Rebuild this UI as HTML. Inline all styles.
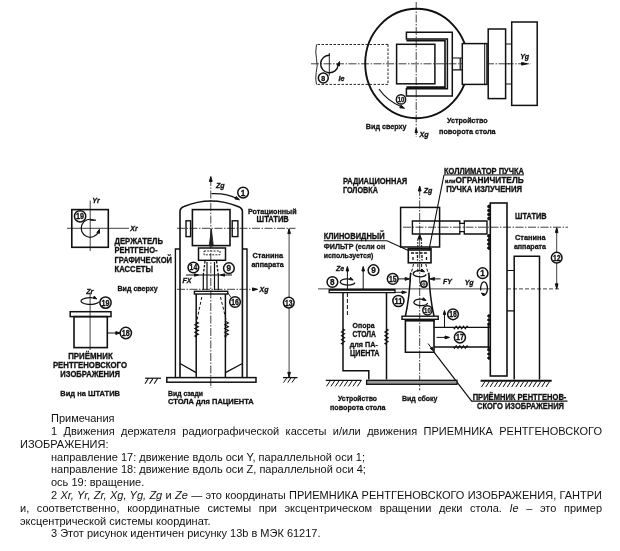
<!DOCTYPE html>
<html lang="ru"><head><meta charset="utf-8"><title>Рисунок</title>
<style>
html,body{margin:0;padding:0;background:#fff;}
body{width:620px;height:551px;position:relative;overflow:hidden;font-family:"Liberation Sans",sans-serif;color:#111;}
svg{position:absolute;left:0;top:0;filter:blur(0.35px);}
svg *{stroke:#111;}
svg text{stroke:#111;stroke-width:0.3px;fill:#111;font-family:"Liberation Sans",sans-serif;}
svg .b{font-weight:bold;}
svg .bi{font-weight:bold;font-style:italic;}
#notes{filter:blur(0.3px);position:absolute;left:20px;top:412.2px;width:582px;font-size:11px;line-height:12.8px;color:#111;}
#notes p{margin:0;text-indent:31px;text-align:justify;}
</style></head><body>
<svg width="620" height="551" viewBox="0 0 620 551" fill="none">
<ellipse cx="416.6" cy="63.5" rx="51.4" ry="54.7" stroke-width="1.9" fill="none"/>
<line x1="311" y1="63.8" x2="531" y2="63.8" stroke-width="0.8" stroke-dasharray="8 1.5 1.5 1.5"/>
<line x1="416.2" y1="2" x2="416.2" y2="137" stroke-width="0.8" stroke-dasharray="8 1.5 1.5 1.5"/>
<path d="M388,44.5 H316.5 M388,84.4 H316.5 M388,44.5 V84.4" stroke-width="0.9" fill="none" stroke-dasharray="2.5 1.5"/>
<path d="M316.5,44.5 q-1.5,8 0,14 q1.5,8 -0.3,14 q-1,7 0.3,12" stroke-width="0.9" fill="none"/>
<path d="M330,55.2 A8.8,8.8 0 1 0 338.2,65" stroke-width="1.4" fill="none"/>
<polygon points="339.6,61.5 339.5,65.9 336.8,65.0" fill="#111" stroke="none"/>
<line x1="329.3" y1="53" x2="329.3" y2="75.6" stroke-width="0.9"/>
<circle cx="323.3" cy="78" r="4.949999999999999" stroke-width="1.5" fill="#fff"/>
<text x="323.3" y="80.52" font-size="7" text-anchor="middle" class="b">8</text>
<text x="338.5" y="81.4" font-size="7.2" class="bi" text-anchor="start">Ie</text>
<rect x="396.6" y="44.3" width="38.3" height="39.5" stroke-width="1.5" fill="none"/>
<path d="M406.4,32.3 H452.3 V96 H406.4 V88.8 H447.4 V38.9 H406.4 Z" stroke-width="1.5" fill="none"/>
<path d="M406.4,40.6 H445 V87.1 H406.4" stroke-width="1.6" fill="none"/>
<path d="M452.3,58 H462.3 M452.3,69.8 H462.3 M460.2,58 V69.8" stroke-width="1.2" fill="none"/>
<rect x="462.3" y="43.6" width="24.7" height="40.8" stroke-width="1.5" fill="#fff"/>
<line x1="484.7" y1="43.6" x2="484.7" y2="84.4" stroke-width="1.0"/>
<rect x="488.2" y="29" width="17.4" height="69.6" stroke-width="1.5" fill="none"/>
<path d="M505.6,44 H511.7 M505.6,84 H511.7" stroke-width="1.2" fill="none"/>
<rect x="511.7" y="22" width="25.5" height="83.4" stroke-width="1.5" fill="#fff"/>
<line x1="505.6" y1="63.8" x2="531" y2="63.8" stroke-width="0.8" stroke-dasharray="8 1.5 1.5 1.5"/>
<polygon points="527.6,63.8 521.6,65.1 521.6,62.5" fill="#111" stroke="none"/>
<text x="520.2" y="58.6" font-size="7" class="bi" text-anchor="start">Yg</text>
<path d="M379,89 Q387,101 403,107.5" stroke-width="1.2" fill="none"/>
<polygon points="404.5,108.2 399.8,107.8 400.9,105.2" fill="#111" stroke="none"/>
<circle cx="401" cy="99.4" r="4.6499999999999995" stroke-width="1.5" fill="#fff"/>
<text x="401" y="101.92" font-size="7" text-anchor="middle" class="b" textLength="6.6" lengthAdjust="spacingAndGlyphs">10</text>
<text x="365.8" y="129.3" font-size="8.0" class="b" textLength="40.8" lengthAdjust="spacingAndGlyphs">Вид сверху</text>
<text x="447" y="122.8" font-size="8.0" class="b" textLength="40.6" lengthAdjust="spacingAndGlyphs">Устройство</text>
<text x="439" y="133.6" font-size="8.0" class="b" textLength="56.6" lengthAdjust="spacingAndGlyphs">поворота стола</text>
<polygon points="416.2,128.5 417.4,132.5 415.0,132.5" fill="#111" stroke="none"/>
<text x="419.5" y="136.6" font-size="7.2" class="bi" text-anchor="start">Xg</text>
<rect x="71.8" y="209.6" width="36.5" height="37.7" stroke-width="1.6" fill="none"/>
<line x1="90.2" y1="200.5" x2="90.2" y2="251" stroke-width="0.8"/>
<line x1="67" y1="228.3" x2="129" y2="228.3" stroke-width="0.8"/>
<text x="92.3" y="203" font-size="7" class="bi" text-anchor="start">Yr</text>
<text x="130.3" y="231.4" font-size="7" class="bi" text-anchor="start">Xr</text>
<path d="M94.2,220.2 A9,9 0 1 0 98.6,231.5" stroke-width="1.2" fill="none"/>
<line x1="90.2" y1="220.2" x2="96" y2="220.2" stroke-width="1.2"/>
<polygon points="99.5,229.2 99.4,233.4 96.9,232.5" fill="#111" stroke="none"/>
<circle cx="80.1" cy="216.3" r="5.6499999999999995" stroke-width="1.5" fill="#fff"/>
<text x="80.1" y="219.25" font-size="8.2" text-anchor="middle" class="b" textLength="8.0" lengthAdjust="spacingAndGlyphs">19</text>
<text x="114.5" y="243.5" font-size="8.2" class="b" textLength="48.5" lengthAdjust="spacingAndGlyphs">ДЕРЖАТЕЛЬ</text>
<text x="114.5" y="253.1" font-size="8.2" class="b" textLength="43.0" lengthAdjust="spacingAndGlyphs">РЕНТГЕНО-</text>
<text x="114.5" y="262.7" font-size="8.2" class="b" textLength="57.5" lengthAdjust="spacingAndGlyphs">ГРАФИЧЕСКОЙ</text>
<text x="114.5" y="272.3" font-size="8.2" class="b" textLength="38.5" lengthAdjust="spacingAndGlyphs">КАССЕТЫ</text>
<text x="117.4" y="290.6" font-size="8.0" class="b" textLength="40.4" lengthAdjust="spacingAndGlyphs">Вид сверху</text>
<text x="86.3" y="294" font-size="7" class="bi" text-anchor="start">Zr</text>
<line x1="90.1" y1="292.5" x2="90.1" y2="350" stroke-width="0.8"/>
<path d="M92.8,297.8 A9,3.4 0 1 0 98.9,301.7" stroke-width="1.3" fill="none"/>
<polygon points="96.8,298.9 93.1,298.3 94.3,296.1" fill="#111" stroke="none"/>
<circle cx="105.5" cy="302.6" r="5.6499999999999995" stroke-width="1.5" fill="#fff"/>
<text x="105.5" y="305.55" font-size="8.2" text-anchor="middle" class="b" textLength="8.0" lengthAdjust="spacingAndGlyphs">19</text>
<rect x="70.2" y="311.7" width="40.8" height="4.9" stroke-width="1.5" fill="none"/>
<rect x="74" y="316.6" width="33.3" height="31.0" stroke-width="1.6" fill="none"/>
<line x1="107.3" y1="333" x2="117" y2="333" stroke-width="1.0"/>
<polygon points="120.3,333.0 115.8,334.4 115.8,331.6" fill="#111" stroke="none"/>
<circle cx="125.8" cy="333" r="5.6499999999999995" stroke-width="1.5" fill="#fff"/>
<text x="125.8" y="335.95" font-size="8.2" text-anchor="middle" class="b" textLength="8.0" lengthAdjust="spacingAndGlyphs">18</text>
<text x="68.2" y="358.8" font-size="8.2" class="b" textLength="44.5" lengthAdjust="spacingAndGlyphs">ПРИЁМНИК</text>
<text x="52.9" y="368.1" font-size="8.2" class="b" textLength="74.1" lengthAdjust="spacingAndGlyphs">РЕНТГЕНОВСКОГО</text>
<text x="60.3" y="377.2" font-size="8.2" class="b" textLength="59.7" lengthAdjust="spacingAndGlyphs">ИЗОБРАЖЕНИЯ</text>
<text x="60.3" y="396" font-size="8.0" class="b" textLength="59.7" lengthAdjust="spacingAndGlyphs">Вид на ШТАТИВ</text>
<line x1="210.8" y1="178" x2="210.8" y2="388" stroke-width="0.8" stroke-dasharray="8 1.5 1.5 1.5"/>
<polygon points="210.8,176.5 212.2,181.5 209.4,181.5" fill="#111" stroke="none"/>
<text x="216" y="188" font-size="7" class="bi" text-anchor="start">Zg</text>
<path d="M211.5,193.7 Q226,193 238,199" stroke-width="1.2" fill="none"/>
<polygon points="239.5,199.8 234.9,198.9 236.2,196.5" fill="#111" stroke="none"/>
<circle cx="243.1" cy="192.6" r="5.35" stroke-width="1.5" fill="#fff"/>
<text x="243.1" y="195.55" font-size="8.2" text-anchor="middle" class="b">1</text>
<path d="M180,377.5 V211.5 Q180,208 184,206.5 Q210.8,195.5 238,206.5 Q242.4,208 242.4,211.5 V377.5" stroke-width="1.6" fill="none"/>
<path d="M175.4,377.5 V249 H180 M247,377.5 V249 H242.4" stroke-width="1.4" fill="none"/>
<rect x="192.4" y="209.6" width="37.6" height="36.0" stroke-width="1.6" fill="none"/>
<rect x="186" y="220.8" width="4.6" height="15.8" stroke-width="1.4" fill="none"/>
<rect x="232.2" y="220.8" width="5.7" height="15.8" stroke-width="1.4" fill="none"/>
<line x1="177" y1="228.3" x2="295.5" y2="228.3" stroke-width="0.8" stroke-dasharray="8 1.5 1.5 1.5"/>
<line x1="289.1" y1="229" x2="289.1" y2="377" stroke-width="0.8"/>
<polygon points="289.1,228.6 290.4,233.6 287.8,233.6" fill="#111" stroke="none"/>
<polygon points="289.1,377.3 287.8,372.3 290.4,372.3" fill="#111" stroke="none"/>
<circle cx="288.8" cy="302.6" r="5.35" stroke-width="1.5" fill="#fff"/>
<text x="288.8" y="305.55" font-size="8.2" text-anchor="middle" class="b" textLength="7.6" lengthAdjust="spacingAndGlyphs">13</text>
<line x1="283" y1="377.6" x2="297.5" y2="377.6" stroke-width="1.3"/>
<line x1="287.0" y1="377.6" x2="283.5" y2="382.6" stroke-width="1.0"/>
<line x1="291.2" y1="377.6" x2="287.7" y2="382.6" stroke-width="1.0"/>
<line x1="295.4" y1="377.6" x2="291.9" y2="382.6" stroke-width="1.0"/>
<text x="248" y="213.8" font-size="8.0" class="b" textLength="48.6" lengthAdjust="spacingAndGlyphs">Ротационный</text>
<text x="256.6" y="222.3" font-size="8.2" class="b" textLength="32.1" lengthAdjust="spacingAndGlyphs">ШТАТИВ</text>
<text x="252.5" y="257.8" font-size="8.0" class="b" textLength="30.5" lengthAdjust="spacingAndGlyphs">Станина</text>
<text x="251.4" y="267" font-size="8.0" class="b" textLength="32.3" lengthAdjust="spacingAndGlyphs">аппарата</text>
<path d="M211.3,229 L209.3,246 H213.3 Z" stroke-width="0.8" fill="#222"/>
<rect x="198.5" y="248" width="27.0" height="12.3" stroke-width="1.5" fill="none"/>
<rect x="204" y="251" width="16" height="3.8" stroke-width="0.9" fill="none" stroke-dasharray="2 1.2"/>
<circle cx="193.4" cy="267.5" r="5.35" stroke-width="1.5" fill="#fff"/>
<text x="193.4" y="270.45" font-size="8.2" text-anchor="middle" class="b" textLength="7.6" lengthAdjust="spacingAndGlyphs">14</text>
<circle cx="228.9" cy="268.2" r="5.35" stroke-width="1.5" fill="#fff"/>
<text x="228.9" y="271.15" font-size="8.2" text-anchor="middle" class="b">9</text>
<line x1="186" y1="275" x2="232" y2="275" stroke-width="1.0"/>
<polygon points="198.5,275.0 194.5,276.2 194.5,273.8" fill="#111" stroke="none"/>
<polygon points="220.5,275.0 224.5,273.8 224.5,276.2" fill="#111" stroke="none"/>
<path d="M205,261 L203.3,275 M216.5,261 L218.3,275" stroke-width="1.3" fill="none" stroke-dasharray="2.5 1.5"/>
<path d="M203.3,275 V290 M207,262 V290 M214.5,262 V290 M218.3,275 V290" stroke-width="1.2" fill="none"/>
<text x="182.6" y="283.2" font-size="7" class="bi" text-anchor="start">FX</text>
<line x1="177" y1="289.3" x2="255" y2="289.3" stroke-width="0.8" stroke-dasharray="8 1.5 1.5 1.5"/>
<polygon points="257.5,289.3 252.5,290.7 252.5,287.9" fill="#111" stroke="none"/>
<text x="259.5" y="292" font-size="7" class="bi" text-anchor="start">Xg</text>
<rect x="194.4" y="291.3" width="33.3" height="2.7" stroke-width="1.4" fill="none"/>
<path d="M196.2,294 V377.5 M225.4,294 V377.5" stroke-width="1.5" fill="none"/>
<circle cx="235" cy="302" r="5.35" stroke-width="1.5" fill="#fff"/>
<text x="235" y="304.95" font-size="8.2" text-anchor="middle" class="b" textLength="7.6" lengthAdjust="spacingAndGlyphs">16</text>
<path d="M227.7,292.6 L231,297.5" stroke-width="0.9" fill="none"/>
<path d="M201.8,297 L196.6,322 M220.5,297 L226.6,322" stroke-width="1.0" fill="none" stroke-dasharray="3 2"/>
<polyline points="196.6,322.0 198.4,322.9 194.8,324.8 198.4,326.7 194.8,328.6 198.4,330.4 194.8,332.3 198.4,334.2 194.8,336.1 196.6,337.0" stroke-width="1.1" fill="none"/>
<polyline points="226.6,322.0 228.4,322.9 224.8,324.8 228.4,326.7 224.8,328.6 228.4,330.4 224.8,332.3 228.4,334.2 224.8,336.1 226.6,337.0" stroke-width="1.1" fill="none"/>
<path d="M180,363.5 L196.2,372.6 M242.4,363.5 L225.4,372.6" stroke-width="1.3" fill="none"/>
<rect x="166.8" y="377.6" width="89.2" height="4.6" stroke-width="1.5" fill="none"/>
<line x1="148.5" y1="378.2" x2="145.0" y2="383.7" stroke-width="1.1"/>
<line x1="153.1" y1="378.2" x2="149.6" y2="383.7" stroke-width="1.1"/>
<line x1="157.7" y1="378.2" x2="154.2" y2="383.7" stroke-width="1.1"/>
<line x1="145" y1="378.2" x2="161" y2="378.2" stroke-width="1.2"/>
<text x="168" y="395.8" font-size="8.0" class="b" textLength="35" lengthAdjust="spacingAndGlyphs">Вид сзади</text>
<text x="168" y="403.8" font-size="8.0" class="b" textLength="85.7" lengthAdjust="spacingAndGlyphs">СТОЛА для ПАЦИЕНТА</text>
<text x="342.9" y="183.8" font-size="8.2" class="b" textLength="64.3" lengthAdjust="spacingAndGlyphs">РАДИАЦИОННАЯ</text>
<text x="342.9" y="193.3" font-size="8.2" class="b" textLength="35.0" lengthAdjust="spacingAndGlyphs">ГОЛОВКА</text>
<line x1="419.7" y1="188" x2="419.7" y2="390.5" stroke-width="0.8" stroke-dasharray="8 1.5 1.5 1.5"/>
<polygon points="419.7,186.0 421.1,191.0 418.3,191.0" fill="#111" stroke="none"/>
<text x="423.7" y="193.2" font-size="7" class="bi" text-anchor="start">Zg</text>
<rect x="400.6" y="207.4" width="39.0" height="39.6" stroke-width="1.5" fill="none"/>
<path d="M412.4,221 H459.8 V223.4 H464.3 V221 H487 V234 H464.3 V231.6 H459.8 V234 H412.4 Z" stroke-width="1.4" fill="none"/>
<path d="M459.8,223.4 V231.6 M464.3,223.4 V231.6" stroke-width="1.0" fill="none"/>
<line x1="403" y1="227.2" x2="568" y2="227.2" stroke-width="0.8" stroke-dasharray="8 1.5 1.5 1.5"/>
<rect x="490.3" y="203" width="16.7" height="173" stroke-width="1.6" fill="none"/>
<circle cx="489" cy="206.5" r="1.4" fill="#111" stroke="none"/>
<circle cx="489" cy="210.5" r="1.4" fill="#111" stroke="none"/>
<circle cx="489" cy="214.5" r="1.4" fill="#111" stroke="none"/>
<circle cx="489" cy="218.5" r="1.4" fill="#111" stroke="none"/>
<circle cx="489" cy="236" r="1.4" fill="#111" stroke="none"/>
<circle cx="489" cy="240" r="1.4" fill="#111" stroke="none"/>
<circle cx="489" cy="244" r="1.4" fill="#111" stroke="none"/>
<circle cx="489" cy="248" r="1.4" fill="#111" stroke="none"/>
<circle cx="489" cy="316" r="1.3" fill="#111" stroke="none"/>
<circle cx="489" cy="320" r="1.3" fill="#111" stroke="none"/>
<circle cx="489" cy="324" r="1.3" fill="#111" stroke="none"/>
<circle cx="489" cy="350" r="1.3" fill="#111" stroke="none"/>
<circle cx="489" cy="354" r="1.3" fill="#111" stroke="none"/>
<circle cx="489" cy="358" r="1.3" fill="#111" stroke="none"/>
<path d="M514.2,379.6 V256.2 H539.5 V379.6" stroke-width="1.5" fill="none"/>
<path d="M507,270.5 H514.2 M507,310.8 H514.2" stroke-width="1.2" fill="none"/>
<text x="515" y="218.8" font-size="8.2" class="b" textLength="31.6" lengthAdjust="spacingAndGlyphs">ШТАТИВ</text>
<text x="515" y="240" font-size="8.0" class="b" textLength="30.5" lengthAdjust="spacingAndGlyphs">Станина</text>
<text x="513.9" y="249.2" font-size="8.0" class="b" textLength="32.1" lengthAdjust="spacingAndGlyphs">аппарата</text>
<line x1="556.7" y1="228" x2="556.7" y2="288.5" stroke-width="0.8"/>
<polygon points="556.7,227.6 558.0,232.6 555.4,232.6" fill="#111" stroke="none"/>
<polygon points="556.7,288.8 555.4,283.8 558.0,283.8" fill="#111" stroke="none"/>
<circle cx="556.7" cy="257.7" r="5.35" stroke-width="1.5" fill="#fff"/>
<text x="556.7" y="260.65" font-size="8.2" text-anchor="middle" class="b" textLength="7.6" lengthAdjust="spacingAndGlyphs">12</text>
<line x1="440" y1="288.9" x2="490" y2="288.9" stroke-width="0.8"/>
<line x1="507" y1="288.9" x2="561" y2="288.9" stroke-width="0.8" stroke-dasharray="4 2"/>
<text x="444" y="173.6" font-size="8.2" class="b" textLength="80" lengthAdjust="spacingAndGlyphs">КОЛЛИМАТОР ПУЧКА</text>
<line x1="444" y1="174.9" x2="524" y2="174.9" stroke-width="1.0"/>
<text x="445" y="182.6" font-size="5.5" class="b" text-anchor="start">или</text>
<text x="455.5" y="182.7" font-size="8.2" class="b" textLength="68.2" lengthAdjust="spacingAndGlyphs">ОГРАНИЧИТЕЛЬ</text>
<text x="446.3" y="192.3" font-size="8.2" class="b" textLength="75.7" lengthAdjust="spacingAndGlyphs">ПУЧКА ИЗЛУЧЕНИЯ</text>
<line x1="444" y1="174.9" x2="428.9" y2="250.3" stroke-width="1.1"/>
<text x="323.7" y="239.1" font-size="8.2" class="b" textLength="60.9" lengthAdjust="spacingAndGlyphs">КЛИНОВИДНЫЙ</text>
<text x="323.7" y="249.2" font-size="8.0" class="b" textLength="61.6" lengthAdjust="spacingAndGlyphs">ФИЛЬТР (если он</text>
<text x="323.7" y="258.2" font-size="8.0" class="b" textLength="49.7" lengthAdjust="spacingAndGlyphs">используется)</text>
<path d="M323.7,240.7 H387 L408.4,250.4" stroke-width="1.1" fill="none"/>
<path d="M417.8,247 V238 M421.6,247 V238" stroke-width="0.9" fill="none" stroke-dasharray="2 1"/>
<polygon points="419.7,234.5 421.5,239.0 417.9,239.0" fill="#111" stroke="none"/>
<rect x="408.3" y="248.6" width="22.7" height="14.2" stroke-width="1.6" fill="none"/>
<line x1="408.3" y1="250" x2="431" y2="250" stroke-width="1.6"/>
<path d="M411,253 H428 M413,257 V260.5 M417.5,255 V260.5 M422,255 V260.5 M426.5,257 V260.5" stroke-width="1.3" fill="none" stroke-dasharray="3 1.3"/>
<path d="M413.5,264 L411,274.5 M425.8,264 L428.3,274.5 M417.8,264 V272 M421.6,264 V272" stroke-width="1.0" fill="none" stroke-dasharray="3 1.8"/>
<path d="M421.7,270.9 A6.6,3 0 1 0 426.2,274.4" stroke-width="1.3" fill="none"/>
<polygon points="424.6,271.9 420.9,271.4 422.1,269.1" fill="#111" stroke="none"/>
<path d="M410.6,272.6 Q409.5,298 405.4,316 M428.8,272.6 Q429.8,298 434,316" stroke-width="1.5" fill="none"/>
<line x1="397.6" y1="278.9" x2="405" y2="278.9" stroke-width="1.0"/>
<polygon points="409.6,278.9 405.1,280.3 405.1,277.5" fill="#111" stroke="none"/>
<line x1="410.4" y1="275.5" x2="410.4" y2="282.3" stroke-width="1.1"/>
<circle cx="392.7" cy="278.9" r="5.35" stroke-width="1.5" fill="#fff"/>
<text x="392.7" y="281.85" font-size="8.2" text-anchor="middle" class="b" textLength="7.6" lengthAdjust="spacingAndGlyphs">15</text>
<line x1="434.5" y1="278.9" x2="440.5" y2="278.9" stroke-width="1.0"/>
<polygon points="429.9,278.9 434.4,277.5 434.4,280.3" fill="#111" stroke="none"/>
<line x1="429.2" y1="275.5" x2="429.2" y2="282.3" stroke-width="1.1"/>
<text x="442.9" y="284" font-size="7" class="bi" text-anchor="start">FY</text>
<text x="464.7" y="285" font-size="7" class="bi" text-anchor="start">Yg</text>
<circle cx="423.9" cy="284.1" r="3.2" stroke-width="1.5" fill="#fff"/>
<circle cx="423.9" cy="284.1" r="1.2" stroke-width="0.9" fill="none"/>
<line x1="318" y1="288.9" x2="440" y2="288.9" stroke-width="0.8"/>
<circle cx="482.6" cy="273.2" r="5.35" stroke-width="1.5" fill="#fff"/>
<text x="482.6" y="276.15" font-size="8.2" text-anchor="middle" class="b">1</text>
<path d="M480.8,290.4 A3.4,6.6 0 1 1 483.3,294.9" stroke-width="1.3" fill="none"/>
<polygon points="481.4,293.0 484.9,294.0 483.5,296.0" fill="#111" stroke="none"/>
<rect x="329.2" y="289.5" width="65.8" height="3.1" stroke-width="1.3" fill="none"/>
<line x1="329.2" y1="290" x2="395" y2="290" stroke-width="1.6"/>
<line x1="395" y1="292.3" x2="403" y2="292.3" stroke-width="0.9"/>
<polygon points="406.5,292.3 402.0,293.6 402.0,291.0" fill="#111" stroke="none"/>
<circle cx="398.4" cy="301" r="5.55" stroke-width="1.5" fill="#fff"/>
<text x="398.4" y="303.95" font-size="8.2" text-anchor="middle" class="b" textLength="7.9" lengthAdjust="spacingAndGlyphs">11</text>
<text x="336" y="270.7" font-size="7" class="bi" text-anchor="start">Ze</text>
<line x1="347.4" y1="269" x2="347.4" y2="289" stroke-width="1.0"/>
<polygon points="347.4,266.5 348.7,271.0 346.1,271.0" fill="#111" stroke="none"/>
<line x1="347.4" y1="293" x2="347.4" y2="315" stroke-width="1.0" stroke-dasharray="4 2"/>
<line x1="363.2" y1="269" x2="363.2" y2="289" stroke-width="1.0"/>
<polygon points="363.2,266.5 364.5,271.0 361.9,271.0" fill="#111" stroke="none"/>
<circle cx="373.5" cy="270.2" r="5.35" stroke-width="1.5" fill="#fff"/>
<text x="373.5" y="273.15" font-size="8.2" text-anchor="middle" class="b">9</text>
<circle cx="332.4" cy="282" r="5.35" stroke-width="1.5" fill="#fff"/>
<text x="332.4" y="284.95" font-size="8.2" text-anchor="middle" class="b">8</text>
<path d="M349.8,279.1 A7.4,3 0 1 0 354.9,282.6" stroke-width="1.3" fill="none"/>
<polygon points="353.2,280.1 349.4,279.6 350.6,277.3" fill="#111" stroke="none"/>
<path d="M343,292.6 V370.7 H368.8 V379.6 M386.5,292.6 V379.6" stroke-width="1.5" fill="none"/>
<polyline points="343.0,329.0 344.6,330.0 341.4,331.9 344.6,333.8 341.4,335.8 344.6,337.7 341.4,339.7 344.6,341.6 341.4,343.5 343.0,344.5" stroke-width="1.1" fill="none"/>
<polyline points="386.5,329.0 388.1,330.0 384.9,331.9 388.1,333.8 384.9,335.8 388.1,337.7 384.9,339.7 388.1,341.6 384.9,343.5 386.5,344.5" stroke-width="1.1" fill="none"/>
<text x="352.6" y="327.8" font-size="8.0" class="b" textLength="21.9" lengthAdjust="spacingAndGlyphs">Опора</text>
<text x="352.6" y="337.3" font-size="8.2" class="b" textLength="23.4" lengthAdjust="spacingAndGlyphs">СТОЛА</text>
<text x="349.7" y="346.8" font-size="8.0" class="b" textLength="28.2" lengthAdjust="spacingAndGlyphs">для ПА-</text>
<text x="350" y="356.2" font-size="8.2" class="b" textLength="29.5" lengthAdjust="spacingAndGlyphs">ЦИЕНТА</text>
<path d="M422.9,299.4 A7,3.2 0 1 0 427.7,303.1" stroke-width="1.3" fill="none"/>
<polygon points="426.1,300.5 422.3,300.0 423.5,297.7" fill="#111" stroke="none"/>
<circle cx="427.4" cy="310.3" r="4.6499999999999995" stroke-width="1.5" fill="#fff"/>
<text x="427.4" y="312.82" font-size="7" text-anchor="middle" class="b" textLength="6.6" lengthAdjust="spacingAndGlyphs">10</text>
<rect x="402" y="316.2" width="36.2" height="3.1" stroke-width="1.4" fill="none"/>
<line x1="405" y1="320.5" x2="434.5" y2="320.5" stroke-width="2.2"/>
<path d="M405.4,319.3 V352.2 H434 V319.3" stroke-width="1.6" fill="none"/>
<path d="M434,327.4 H490.3 M434,347 H490.3" stroke-width="1.4" fill="none"/>
<polyline points="453.5,327.4 454.4,328.7 456.2,326.1 458.0,328.7 459.8,326.1 461.7,328.7 463.5,326.1 465.3,328.7 467.1,326.1 468.0,327.4" stroke-width="1.1" fill="none"/>
<polyline points="453.5,347.0 454.4,348.3 456.2,345.7 458.0,348.3 459.8,345.7 461.7,348.3 463.5,345.7 465.3,348.3 467.1,345.7 468.0,347.0" stroke-width="1.1" fill="none"/>
<line x1="488.4" y1="325" x2="488.4" y2="349.5" stroke-width="1.6"/>
<line x1="436.5" y1="337.4" x2="446" y2="337.4" stroke-width="1.0"/>
<polygon points="449.5,337.4 445.0,338.8 445.0,336.0" fill="#111" stroke="none"/>
<circle cx="459.9" cy="337.4" r="5.55" stroke-width="1.5" fill="#fff"/>
<text x="459.9" y="340.35" font-size="8.2" text-anchor="middle" class="b" textLength="7.9" lengthAdjust="spacingAndGlyphs">17</text>
<line x1="444.5" y1="310.8" x2="444.5" y2="327.4" stroke-width="1.0"/>
<polygon points="444.5,310.5 445.7,314.5 443.3,314.5" fill="#111" stroke="none"/>
<circle cx="453" cy="314.3" r="5.35" stroke-width="1.5" fill="#fff"/>
<text x="453" y="317.25" font-size="8.2" text-anchor="middle" class="b" textLength="7.6" lengthAdjust="spacingAndGlyphs">18</text>
<path d="M428,343.5 L432.5,349.5" stroke-width="1.0" fill="none"/>
<polygon points="433.2,350.6 430.2,348.4 432.2,347.0" fill="#111" stroke="none"/>
<path d="M434,352.2 L471.6,401.2 H567.5" stroke-width="1.2" fill="none"/>
<rect x="366.6" y="380.3" width="90.4" height="4.0" stroke-width="1.3" fill="#999"/>
<line x1="325.8" y1="380.4" x2="361.5" y2="380.4" stroke-width="1.3"/>
<line x1="330.5" y1="380.4" x2="326.5" y2="386.4" stroke-width="1.0"/>
<line x1="334.9" y1="380.4" x2="330.9" y2="386.4" stroke-width="1.0"/>
<line x1="339.3" y1="380.4" x2="335.3" y2="386.4" stroke-width="1.0"/>
<line x1="343.7" y1="380.4" x2="339.7" y2="386.4" stroke-width="1.0"/>
<line x1="348.1" y1="380.4" x2="344.1" y2="386.4" stroke-width="1.0"/>
<line x1="352.5" y1="380.4" x2="348.5" y2="386.4" stroke-width="1.0"/>
<line x1="356.9" y1="380.4" x2="352.9" y2="386.4" stroke-width="1.0"/>
<line x1="361.3" y1="380.4" x2="357.3" y2="386.4" stroke-width="1.0"/>
<line x1="480.6" y1="380.8" x2="551.7" y2="380.8" stroke-width="2.0"/>
<line x1="485.0" y1="381.5" x2="481.5" y2="387.0" stroke-width="1.0"/>
<line x1="489.3" y1="381.5" x2="485.8" y2="387.0" stroke-width="1.0"/>
<line x1="493.6" y1="381.5" x2="490.1" y2="387.0" stroke-width="1.0"/>
<line x1="497.9" y1="381.5" x2="494.4" y2="387.0" stroke-width="1.0"/>
<line x1="502.2" y1="381.5" x2="498.7" y2="387.0" stroke-width="1.0"/>
<line x1="506.5" y1="381.5" x2="503.0" y2="387.0" stroke-width="1.0"/>
<line x1="510.8" y1="381.5" x2="507.3" y2="387.0" stroke-width="1.0"/>
<line x1="515.1" y1="381.5" x2="511.6" y2="387.0" stroke-width="1.0"/>
<line x1="519.4" y1="381.5" x2="515.9" y2="387.0" stroke-width="1.0"/>
<line x1="523.7" y1="381.5" x2="520.2" y2="387.0" stroke-width="1.0"/>
<line x1="528.0" y1="381.5" x2="524.5" y2="387.0" stroke-width="1.0"/>
<line x1="532.3" y1="381.5" x2="528.8" y2="387.0" stroke-width="1.0"/>
<line x1="536.6" y1="381.5" x2="533.1" y2="387.0" stroke-width="1.0"/>
<line x1="540.9" y1="381.5" x2="537.4" y2="387.0" stroke-width="1.0"/>
<line x1="545.2" y1="381.5" x2="541.7" y2="387.0" stroke-width="1.0"/>
<line x1="549.5" y1="381.5" x2="546.0" y2="387.0" stroke-width="1.0"/>
<text x="338" y="400.8" font-size="8.0" class="b" textLength="39" lengthAdjust="spacingAndGlyphs">Устройство</text>
<text x="330" y="410.2" font-size="8.0" class="b" textLength="55.6" lengthAdjust="spacingAndGlyphs">поворота стола</text>
<text x="402" y="401" font-size="8.0" class="b" textLength="35.5" lengthAdjust="spacingAndGlyphs">Вид сбоку</text>
<text x="472.7" y="400.2" font-size="8.2" class="b" textLength="93.7" lengthAdjust="spacingAndGlyphs">ПРИЁМНИК РЕНТГЕНОВ-</text>
<text x="477" y="409.2" font-size="8.2" class="b" textLength="87" lengthAdjust="spacingAndGlyphs">СКОГО ИЗОБРАЖЕНИЯ</text>
</svg>
<div id="notes">
<p>Примечания</p>
<p>1 Движения держателя радиографической кассеты и/или движения ПРИЕМНИКА РЕНТГЕНОВСКОГО ИЗОБРАЖЕНИЯ:</p>
<p>направление 17: движение вдоль оси Y, параллельной оси 1;</p>
<p>направление 18: движение вдоль оси Z, параллельной оси 4;</p>
<p>ось 19: вращение.</p>
<p>2 <i>Xr, Yr, Zr, Xg, Yg, Zg</i> и <i>Ze</i> — это координаты ПРИЕМНИКА РЕНТГЕНОВСКОГО ИЗОБРАЖЕНИЯ, ГАНТРИ и, соответственно, координатные системы при эксцентрическом вращении деки стола. <i>Ie</i> – это пример эксцентрической системы координат.</p>
<p>3 Этот рисунок идентичен рисунку 13b в МЭК 61217.</p>
</div>
</body></html>
